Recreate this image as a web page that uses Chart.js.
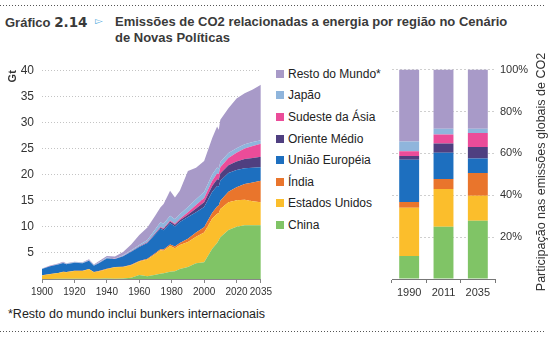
<!DOCTYPE html>
<html>
<head>
<meta charset="utf-8">
<script src="https://cdn.jsdelivr.net/npm/chart.js@4.4.0/dist/chart.umd.min.js"></script>
<style>
  body { margin: 0; width: 550px; height: 339px; background: #fff; position: relative; overflow: hidden;
         font-family: "Liberation Sans", Arial, sans-serif; color: #222; }
  .dots { position: absolute; left: 0; width: 546px; height: 1px;
          background: repeating-linear-gradient(to right, #555 0 1px, transparent 1px 3px); }
  #lbl { position: absolute; left: 5px; top: 14px; font-size: 13px; font-weight: bold; color: #3a3a3a; }
  #lbl .num { font-family: "DejaVu Sans", sans-serif; font-size: 13.5px; }
  #tri { position: absolute; left: 95px; top: 15px; font-size: 10px; color: #5aaee0; font-family: "DejaVu Sans", sans-serif; }
  #title { position: absolute; left: 115px; top: 14px; width: 430px; font-size: 13px; font-weight: bold;
           line-height: 15.5px; color: #3a3a3a; }
  #areaBox { position: absolute; left: 0; top: 55px; width: 275px; height: 250px; }
  #barBox { position: absolute; left: 385px; top: 58px; width: 150px; height: 247px; }
  #legend { position: absolute; left: 276px; top: 63px; font-size: 12px; color: #222; }
  #legend .item { height: 21.6px; display: flex; align-items: center; white-space: nowrap; }
  #legend .sw { width: 8px; height: 8px; margin-right: 4px; display: inline-block; }
  #shareTitle { position: absolute; left: 421px; top: 164px; width: 240px; height: 16px; line-height: 16px;
                text-align: center; font-size: 12.5px; color: #333; white-space: nowrap; transform: rotate(-90deg); }
  #note { position: absolute; left: 8px; top: 307px; font-size: 12.5px; color: #222; }
</style>
</head>
<body>
<div class="dots" style="top:5px"></div>
<div id="lbl">Gráfico <span class="num">2.14</span></div>
<div id="tri">▻</div>
<div id="title">Emissões de CO2 relacionadas a energia por região no Cenário<br>de Novas Políticas</div>

<div id="areaBox"><canvas id="areaChart"></canvas></div>
<div id="legend"></div>
<div id="barBox"><canvas id="barChart"></canvas></div>
<div id="shareTitle">Participação nas emissões globais de CO2</div>

<div id="note">*Resto do mundo inclui bunkers internacionais</div>
<div class="dots" style="top:331px"></div>

<script>
// emissions by region, Gt
const years = [1900, 1905, 1910, 1913, 1915, 1920, 1925, 1929, 1932, 1935, 1940, 1945, 1950, 1955, 1960, 1965, 1970,
  1973, 1975, 1979, 1982, 1985, 1990, 1995, 2000, 2005, 2008, 2009, 2010, 2015, 2020, 2025, 2030, 2035];
const china = [0.02, 0.02, 0.03, 0.03, 0.03, 0.04, 0.05, 0.05, 0.05, 0.06, 0.08, 0.05, 0.08, 0.25, 0.75, 0.55, 0.8,
  1.0, 1.1, 1.4, 1.5, 1.9, 2.3, 3.0, 3.2, 5.8, 6.9, 7.4, 8.0, 9.4, 10.0, 10.3, 10.3, 10.3];
const usa = [0.65, 0.9, 1.1, 1.3, 1.25, 1.5, 1.5, 1.8, 1.25, 1.4, 1.8, 2.2, 2.2, 2.4, 2.6, 3.2, 4.0,
  4.5, 4.3, 4.9, 4.4, 4.6, 4.8, 5.1, 5.7, 5.8, 5.6, 5.2, 5.4, 5.3, 5.1, 4.9, 4.6, 4.4];
const india = [0.03, 0.03, 0.04, 0.04, 0.04, 0.05, 0.05, 0.05, 0.05, 0.05, 0.06, 0.06, 0.07, 0.08, 0.1, 0.15, 0.2,
  0.22, 0.25, 0.3, 0.35, 0.4, 0.6, 0.8, 1.0, 1.1, 1.4, 1.5, 1.6, 2.0, 2.5, 3.0, 3.6, 4.1];
const eu = [1.2, 1.5, 1.6, 1.7, 1.5, 1.5, 1.4, 1.6, 1.2, 1.5, 2.0, 1.5, 2.0, 2.5, 2.7, 3.0, 3.6,
  3.9, 3.7, 4.1, 3.8, 4.0, 4.2, 3.9, 3.9, 4.0, 3.9, 3.6, 3.8, 3.6, 3.3, 3.0, 2.8, 2.6];
const middleEast = [0.01, 0.01, 0.01, 0.01, 0.01, 0.01, 0.01, 0.02, 0.02, 0.02, 0.02, 0.03, 0.03, 0.05, 0.06, 0.1, 0.15,
  0.2, 0.22, 0.3, 0.32, 0.35, 0.4, 0.7, 0.9, 1.1, 1.3, 1.3, 1.4, 1.5, 1.6, 1.8, 1.9, 2.0];
const seAsia = [0.01, 0.01, 0.01, 0.01, 0.01, 0.02, 0.02, 0.02, 0.02, 0.02, 0.03, 0.02, 0.03, 0.04, 0.05, 0.07, 0.1,
  0.13, 0.15, 0.2, 0.22, 0.25, 0.5, 0.7, 0.8, 1.0, 1.1, 1.1, 1.2, 1.4, 1.7, 2.0, 2.3, 2.5];
const japan = [0.03, 0.04, 0.05, 0.06, 0.06, 0.08, 0.09, 0.1, 0.1, 0.12, 0.15, 0.08, 0.12, 0.17, 0.25, 0.4, 0.75,
  0.9, 0.85, 0.9, 0.85, 0.9, 1.0, 1.1, 1.15, 1.2, 1.15, 1.05, 1.0, 0.95, 0.85, 0.8, 0.75, 0.7];
const rest = [0.05, 0.1, 0.15, 0.15, 0.1, 0.1, 0.1, 0.15, 0.1, 0.25, 0.25, 0.35, 0.65, 1.1, 1.9, 2.4, 2.6,
  2.85, 3.8, 4.8, 4.15, 4.5, 6.9, 6.0, 5.95, 7.0, 7.85, 7.45, 8.1, 8.55, 9.55, 9.8, 10.05, 10.6];
const yearTicks = [1900, 1920, 1940, 1960, 1980, 2000, 2020, 2035];

// share of global emissions, %
const barYears = ['1990', '2011', '2035'];
const shareChina = [11, 25, 27.8];
const shareUsa = [23, 18, 11.9];
const shareIndia = [2.8, 4.7, 10.9];
const shareEu = [20.2, 12.6, 6.9];
const shareMiddleEast = [1.7, 4.4, 5.5];
const shareSeAsia = [2.3, 4.3, 6.7];
const shareJapan = [4.7, 2.8, 2.0];
const shareRest = [34.3, 28.2, 28.3];

const regions = ['China', 'Estados Unidos', 'Índia', 'União Européia', 'Oriente Médio', 'Sudeste da Ásia', 'Japão', 'Resto do Mundo*'];
const colors = ['#80c466', '#fbbe2c', '#e9752c', '#1d6fbf', '#4f3f80', '#eb4c99', '#8fb5dc', '#a89ac8'];
const series = [china, usa, india, eu, middleEast, seAsia, japan, rest];
const shares = [shareChina, shareUsa, shareIndia, shareEu, shareMiddleEast, shareSeAsia, shareJapan, shareRest];

Chart.defaults.font.family = '"Liberation Sans", Arial, sans-serif';
Chart.defaults.color = '#333';
Chart.defaults.animation = false;

// legend (top to bottom = top of stack first)
const legend = document.getElementById('legend');
for (let i = regions.length - 1; i >= 0; i--) {
    const row = document.createElement('div');
    row.className = 'item';
    row.innerHTML = '<span class="sw" style="background:' + colors[i] + '"></span>' + regions[i];
    legend.appendChild(row);
}

new Chart(document.getElementById('areaChart'), {
    type: 'line',
    data: {
        datasets: series.map((vals, i) => ({
            label: regions[i],
            data: years.map((y, j) => ({ x: y, y: vals[j] })),
            backgroundColor: colors[i],
            borderColor: colors[i],
            borderWidth: 0,
            pointRadius: 0,
            fill: i === 0 ? 'origin' : '-1'
        }))
    },
    options: {
        responsive: true,
        maintainAspectRatio: false,
        layout: { padding: { top: 7, right: 14, left: 0, bottom: 0 } },
        plugins: { legend: { display: false }, tooltip: { enabled: false } },
        scales: {
            x: {
                type: 'linear',
                min: 1900,
                max: 2035,
                afterBuildTicks: axis => { axis.ticks = yearTicks.map(v => ({ value: v })); },
                afterFit: axis => { axis.height = 26; },
                ticks: { callback: v => String(v), maxRotation: 0, autoSkip: false, padding: 3, font: { size: 10 }, color: '#333' },
                grid: { drawOnChartArea: false, tickLength: 4, color: '#888' },
                border: { color: '#888' }
            },
            y: {
                stacked: true,
                min: 0,
                max: 40,
                afterFit: axis => { axis.width = 42; },
                ticks: { stepSize: 5, padding: 8, callback: v => v === 0 ? '' : v, font: { size: 12 }, color: '#333' },
                grid: { drawTicks: false, color: '#c4c4c4' },
                border: { display: false, dash: [1, 2] },
                title: { display: true, text: 'Gt', align: 'end', padding: { top: 6, bottom: 0 }, font: { size: 11, weight: 'bold' }, color: '#333' }
            }
        }
    }
});

new Chart(document.getElementById('barChart'), {
    type: 'bar',
    data: {
        labels: barYears,
        datasets: shares.map((vals, i) => ({
            label: regions[i],
            data: vals,
            backgroundColor: colors[i],
            barPercentage: 0.58,
            categoryPercentage: 1
        }))
    },
    options: {
        responsive: true,
        maintainAspectRatio: false,
        layout: { padding: { top: 7, left: 7, right: 0, bottom: 0 } },
        plugins: { legend: { display: false }, tooltip: { enabled: false } },
        scales: {
            x: {
                stacked: true,
                afterFit: axis => { axis.height = 26; },
                ticks: { padding: 3, font: { size: 11 }, color: '#333' },
                grid: { drawOnChartArea: false, tickLength: 4, color: '#777' },
                border: { color: '#777' }
            },
            y: {
                stacked: true,
                position: 'right',
                min: 0,
                max: 100,
                afterFit: axis => { axis.width = 40; },
                ticks: { stepSize: 20, padding: 5, callback: v => v === 0 ? '' : v + '%', font: { size: 11 }, color: '#333' },
                grid: { drawTicks: false, color: '#cfcfcf' },
                border: { display: false, dash: [2, 2] }
            }
        }
    }
});
</script>
</body>
</html>
